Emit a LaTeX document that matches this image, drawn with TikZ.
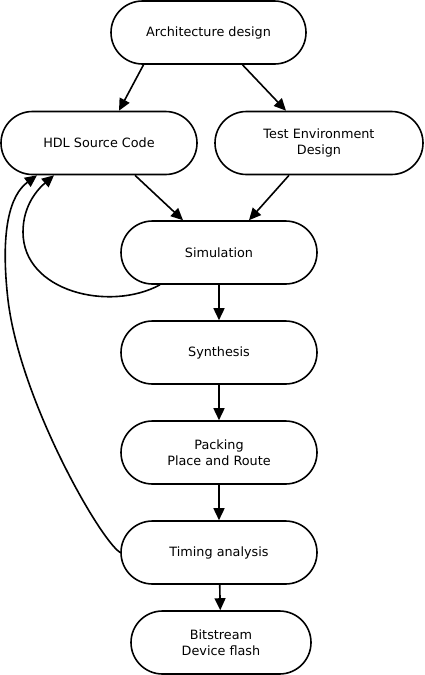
\documentclass[tikz,border=0pt]{standalone}
\usepackage{fontspec}
\setmainfont{DejaVu Sans}
\usetikzlibrary{arrows.meta}

\begin{document}
\begin{tikzpicture}[x=1pt,y=-1pt,line width=1.6pt,
    stage/.style={draw,rectangle,rounded corners=31.5pt,minimum width=196pt,
      minimum height=63pt,align=center,font=\fontsize{12.8}{16}\selectfont},
    flow/.style={-{Triangle[length=12pt,width=11pt]}}]
            \useasboundingbox (0,0) rectangle (424,675);
            \draw (208.5,32.5) node[stage,minimum width=195pt] (arch) {Architecture design};
            \draw (99,143) node[stage] (hdl) {HDL Source Code};
            \draw (319,143) node[stage,minimum width=208pt] (test) {Test Environment\\Design};
            \draw (219,252.5) node[stage] (sim) {Simulation};
            \draw (219,352.5) node[stage] (synth) {Synthesis};
            \draw (219,452.5) node[stage] (pnr) {Packing\\Place and Route};
            \draw (219,552.5) node[stage] (timing) {Timing analysis};
            \draw (221,642.5) node[stage,minimum width=180pt] (bit) {Bitstream\\Device flash};

            \draw[flow] ([xshift=-65]arch.south)--([xshift=20]hdl.north);
            \draw[flow] ([xshift=34]arch.south)--([xshift=-33]test.north);
            \draw[flow] ([xshift=36]hdl.south)--([xshift=-36]sim.north);
            \draw[flow] ([xshift=-30]test.south)--([xshift=30]sim.north);
            \draw[flow] (sim)--(synth);
            \draw[flow] (synth)--(pnr);
            \draw[flow] (pnr)--(timing);
            \draw[flow] (timing)--(bit);

            % feedback loops
            \draw[flow] ([xshift=-59]sim.south) .. controls (110,312) and (23,292) .. (23,232)
            .. controls (23,205) and (38,189) .. ([xshift=-45]hdl.south);
            \draw[flow] (timing.west) .. controls (100,540) and (20,400) .. (8,300)
            .. controls (0,230) and (10,195) .. ([xshift=-62]hdl.south);
\end{tikzpicture}
\end{document}
